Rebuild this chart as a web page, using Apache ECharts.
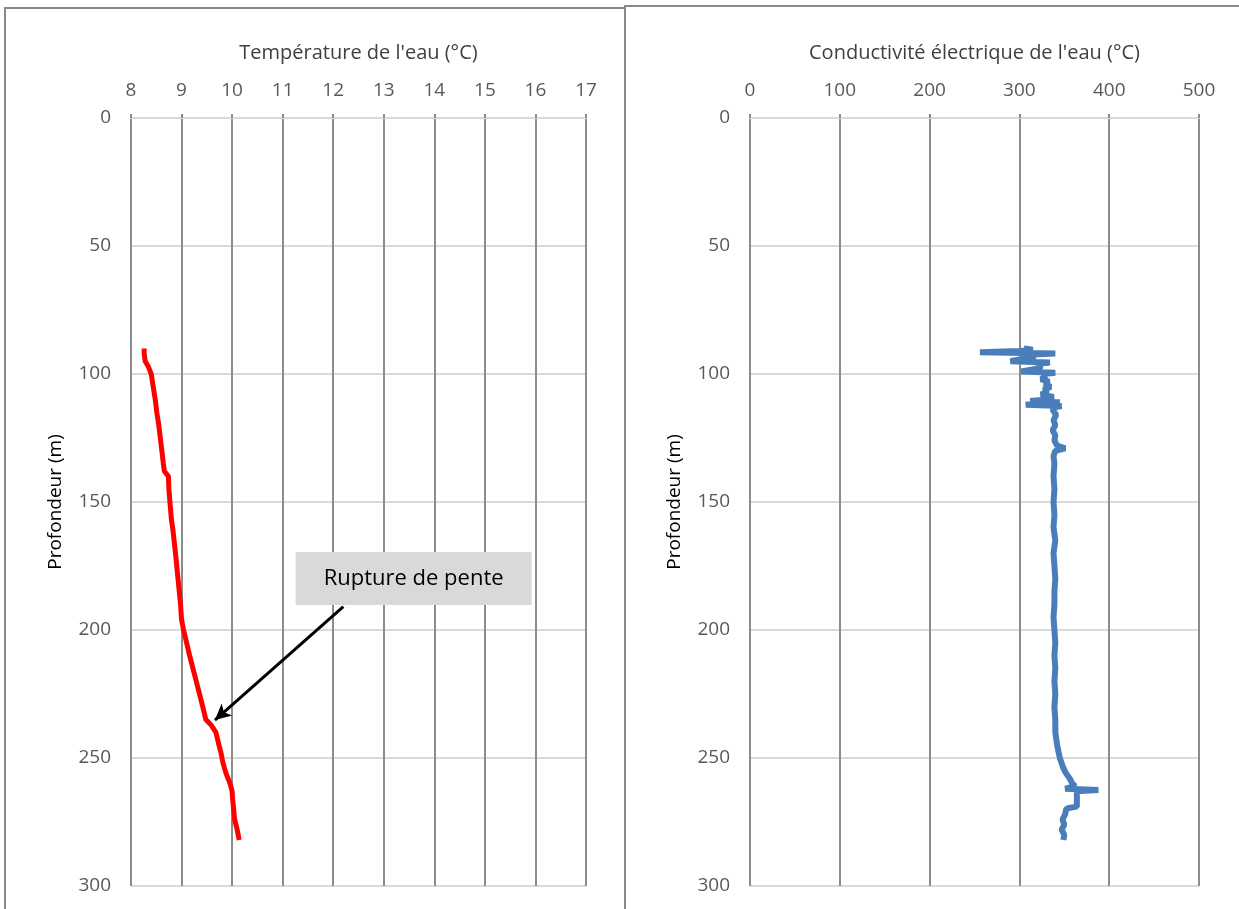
<!DOCTYPE html>
<html>
<head>
<meta charset="utf-8">
<script src="https://cdn.jsdelivr.net/npm/echarts@6/dist/echarts.min.js"></script>
<style>
  html, body { margin: 0; padding: 0; background: #fff; }
  #chart { width: 1239px; height: 909px; }
</style>
</head>
<body>
<div id="chart"></div>
<script>
// profondeur (m) / temperature (°C)
var tempDepth = [90, 92, 95, 97, 99, 100, 105, 110, 115, 120, 125, 130, 135, 138, 140, 145, 150, 157, 161, 170, 180, 190, 196, 200, 210, 220, 230, 235, 237, 240, 245, 248, 252, 256, 260, 263, 266, 270, 274, 278, 282];
var tempValues = [8.26, 8.26, 8.28, 8.34, 8.38, 8.4, 8.44, 8.48, 8.51, 8.55, 8.58, 8.61, 8.64, 8.66, 8.74, 8.75, 8.77, 8.8, 8.83, 8.88, 8.93, 8.98, 9.0, 9.04, 9.16, 9.29, 9.42, 9.48, 9.58, 9.68, 9.74, 9.78, 9.82, 9.88, 9.96, 10.0, 10.01, 10.03, 10.05, 10.1, 10.14];

// profondeur (m) / conductivite
var condDepth = [90, 90.5, 91, 91.5, 92, 92.5, 93, 94, 95, 95.5, 96, 97, 98, 99, 99.5, 100, 101, 102, 103, 104, 105, 106, 107, 108, 109, 110, 110.5, 111, 111.5, 112, 112.5, 113, 114, 116, 118, 120, 122, 124, 126, 128, 129, 130, 132, 135,
  140, 145, 150, 155, 160, 165, 170, 175, 180, 185, 190, 195, 200, 205, 210, 215, 220, 225, 230, 235, 240, 245,
  250, 252, 254, 256, 258, 260, 261, 262, 262.5, 263, 263.5, 264, 266, 268, 269, 269.5, 270, 272, 274, 276, 278, 280, 282];
var condValues = [305, 315, 300, 256, 340, 310, 318, 305, 290, 334, 320, 325, 318, 302, 340, 326, 330, 324, 333, 328, 335, 327, 332, 324, 338, 330, 312, 345, 320, 307, 347, 339, 337, 341, 338, 340, 337, 340, 339, 342, 351, 340, 338, 339,
  338, 339, 338, 339, 338, 340, 338, 339, 340, 339, 339, 338, 339, 340, 339, 340, 339, 340, 339, 340, 340, 342,
  345, 347, 349, 352, 356, 359, 362, 351, 388, 364, 362, 364, 364, 364, 364, 355, 352, 351, 348, 350, 347, 350, 349];

var yTicks = { min: 0, max: 300, interval: 50 };

let dom = document.getElementById('chart');
var myChart = echarts.init(dom);

var textFont = 'Open Sans';
var gridV = '#8c8c8c';
var gridH = '#d9d9d9';
var labelColor = '#595959';

function pairs(xs, ys) {
  var out = [];
  for (var i = 0; i < xs.length; i++) out.push([xs[i], ys[i]]);
  return out;
}

function makeX(idx, name, min, max, interval) {
  return {
    type: 'value',
    gridIndex: idx,
    position: 'top',
    min: min, max: max, interval: interval,
    name: name,
    nameLocation: 'middle',
    nameGap: 55,
    nameTextStyle: { color: '#404040', fontSize: 20, fontFamily: textFont },
    axisLine: { show: true, lineStyle: { color: gridH, width: 2 } },
    axisTick: { show: true, length: 4, lineStyle: { color: gridV, width: 2 } },
    axisLabel: { color: labelColor, fontSize: 19, fontFamily: textFont, margin: 18 },
    splitLine: { show: true, lineStyle: { color: gridV, width: 2 } }
  };
}

function makeY(idx) {
  return {
    type: 'value',
    gridIndex: idx,
    inverse: true,
    min: yTicks.min, max: yTicks.max, interval: yTicks.interval,
    name: 'Profondeur (m)',
    nameLocation: 'middle',
    nameGap: 66,
    nameTextStyle: { color: '#000', fontSize: 19, fontFamily: textFont },
    axisLine: { show: false },
    axisTick: { show: false },
    axisLabel: { color: labelColor, fontSize: 19, fontFamily: textFont, margin: 20 },
    splitLine: { show: true, lineStyle: { color: gridH, width: 2 } }
  };
}

let option = {
  animation: false,
  backgroundColor: '#fff',
  graphic: [
    { type: 'rect', shape: { x: 5, y: 8, width: 620, height: 920 }, style: { fill: 'none', stroke: '#898989', lineWidth: 2 }, z: 0 },
    { type: 'rect', shape: { x: 625, y: 6, width: 640, height: 920 }, style: { fill: 'none', stroke: '#898989', lineWidth: 2 }, z: 0 }
  ],
  grid: [
    { left: 131, right: 653, top: 118, bottom: 23 },
    { left: 750, right: 40, top: 118, bottom: 23 }
  ],
  xAxis: [
    makeX(0, "Température de l'eau (°C)", 8, 17, 1),
    makeX(1, "Conductivité électrique de l'eau (°C)", 0, 500, 100)
  ],
  yAxis: [makeY(0), makeY(1)],
  series: [
    {
      name: 'Température',
      type: 'line',
      xAxisIndex: 0,
      yAxisIndex: 0,
      showSymbol: false,
      symbol: 'none',
      lineStyle: { color: '#ff0000', width: 5 },
      data: pairs(tempValues, tempDepth),
      markLine: {
        silent: true,
        symbol: ['none', 'arrow'],
        symbolSize: [12, 16],
        label: { show: false },
        lineStyle: { color: '#000', width: 3, type: 'solid' },
        data: [[{ coord: [12.2, 190.9] }, { coord: [9.66, 235.2] }]]
      },
      markPoint: {
        silent: true,
        symbol: 'rect',
        symbolSize: [236, 53],
        itemStyle: { color: '#d9d9d9' },
        label: { show: true, color: '#000', fontSize: 22, fontFamily: textFont, formatter: 'Rupture de pente' },
        data: [{ coord: [13.59, 179.9] }]
      }
    },
    {
      name: 'Conductivité',
      type: 'line',
      xAxisIndex: 1,
      yAxisIndex: 1,
      showSymbol: false,
      symbol: 'none',
      lineStyle: { color: '#4a7ebb', width: 6 },
      data: pairs(condValues, condDepth)
    }
  ]
};
if (option && typeof option === 'object') {
  myChart.setOption(option, true);
}
window.addEventListener('resize', function () {
  myChart.resize();
});
</script>
</body>
</html>
